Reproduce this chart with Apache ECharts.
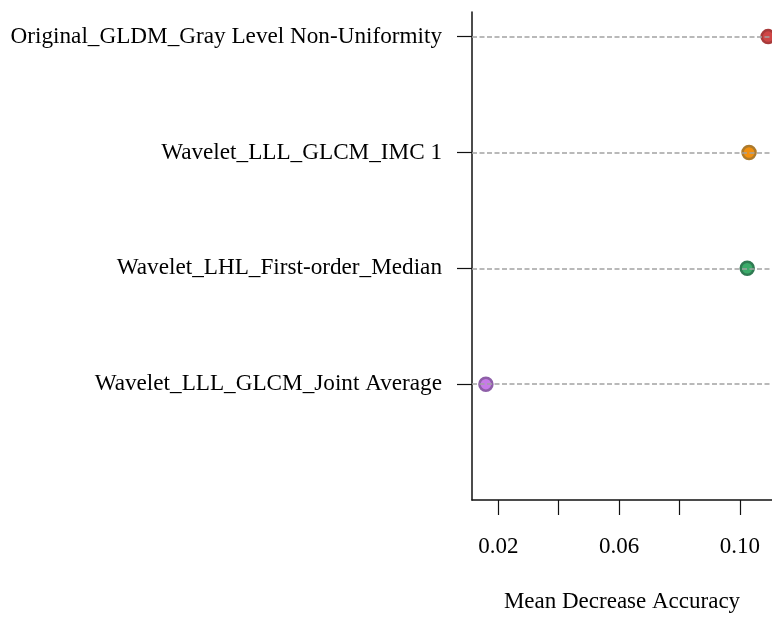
<!DOCTYPE html>
<html>
<head>
<meta charset="utf-8">
<script src="https://cdn.jsdelivr.net/npm/echarts@6/dist/echarts.min.js"></script>
<style>
  html, body { margin: 0; padding: 0; background: #fff; }
  #chart { width: 772px; height: 618px; }
</style>
</head>
<body>
<div id="chart"></div>
<script>
// Feature importance (mean decrease in accuracy), top to bottom
const features = [
  'Original_GLDM_Gray Level Non-Uniformity',
  'Wavelet_LLL_GLCM_IMC 1',
  'Wavelet_LHL_First-order_Median',
  'Wavelet_LLL_GLCM_Joint Average'
];
const importance = [0.1093, 0.1030, 0.1024, 0.0159];
const pointFill = ['#cf4646', '#f2900f', '#3bab69', '#c77be8'];
const pointEdge = ['#a83a3a', '#ad7a2b', '#2f7a52', '#8e5fa8'];
const xTicks = [0.02, 0.04, 0.06, 0.08, 0.10];
const xTickLabels = [0.02, 0.06, 0.10];
const xTitle = 'Mean Decrease Accuracy';

const rows = features.map((_, i) => i);
const points = importance.map((v, i) => ({
  value: [v, i],
  itemStyle: { color: pointFill[i], borderColor: pointEdge[i], borderWidth: 2.5, opacity: 1 }
}));

const FONT = '"Liberation Serif", "Times New Roman", serif';

const chart = echarts.init(document.getElementById('chart'), null, { renderer: 'canvas' });
chart.setOption({
  animation: false,
  backgroundColor: '#ffffff',
  grid: { left: 472, right: 0, top: 12, bottom: 111, containLabel: false },
  xAxis: {
    type: 'value',
    min: 0.0113,
    max: 0.1106,
    name: xTitle,
    nameLocation: 'middle',
    nameGap: 90,
    nameTextStyle: { fontFamily: FONT, fontSize: 23, color: '#000' },
    axisLine: { show: true, onZero: false, lineStyle: { color: '#111', width: 1.5 } },
    axisTick: { show: true, customValues: xTicks, length: 15, lineStyle: { color: '#111', width: 1.2 } },
    axisLabel: {
      customValues: xTickLabels,
      margin: 35,
      fontFamily: FONT, fontSize: 23, color: '#000',
      formatter: v => v.toFixed(2)
    },
    splitLine: { show: false }
  },
  yAxis: {
    type: 'value',
    inverse: true,
    min: -0.2125,
    max: 4,
    axisLine: { show: true, onZero: false, lineStyle: { color: '#111', width: 1.5 } },
    axisTick: { show: true, customValues: rows, length: 15, lineStyle: { color: '#111', width: 1.2 } },
    axisLabel: {
      customValues: rows,
      margin: 30,
      fontFamily: FONT, fontSize: 23.2, color: '#000',
      formatter: v => features[Math.round(v)]
    },
    splitLine: { show: false }
  },
  series: [
    {
      // dashed guide lines for each feature row
      type: 'scatter',
      data: [],
      z: 1,
      markLine: {
        silent: true,
        symbol: ['none', 'none'],
        label: { show: false },
        lineStyle: { color: '#a3a3a3', type: [5, 2.5], width: 1.5 },
        data: rows.map(r => ({ yAxis: r }))
      }
    },
    {
      type: 'scatter',
      z: 3,
      symbol: 'circle',
      symbolSize: 13,
      data: points
    }
  ]
});
</script>
</body>
</html>
